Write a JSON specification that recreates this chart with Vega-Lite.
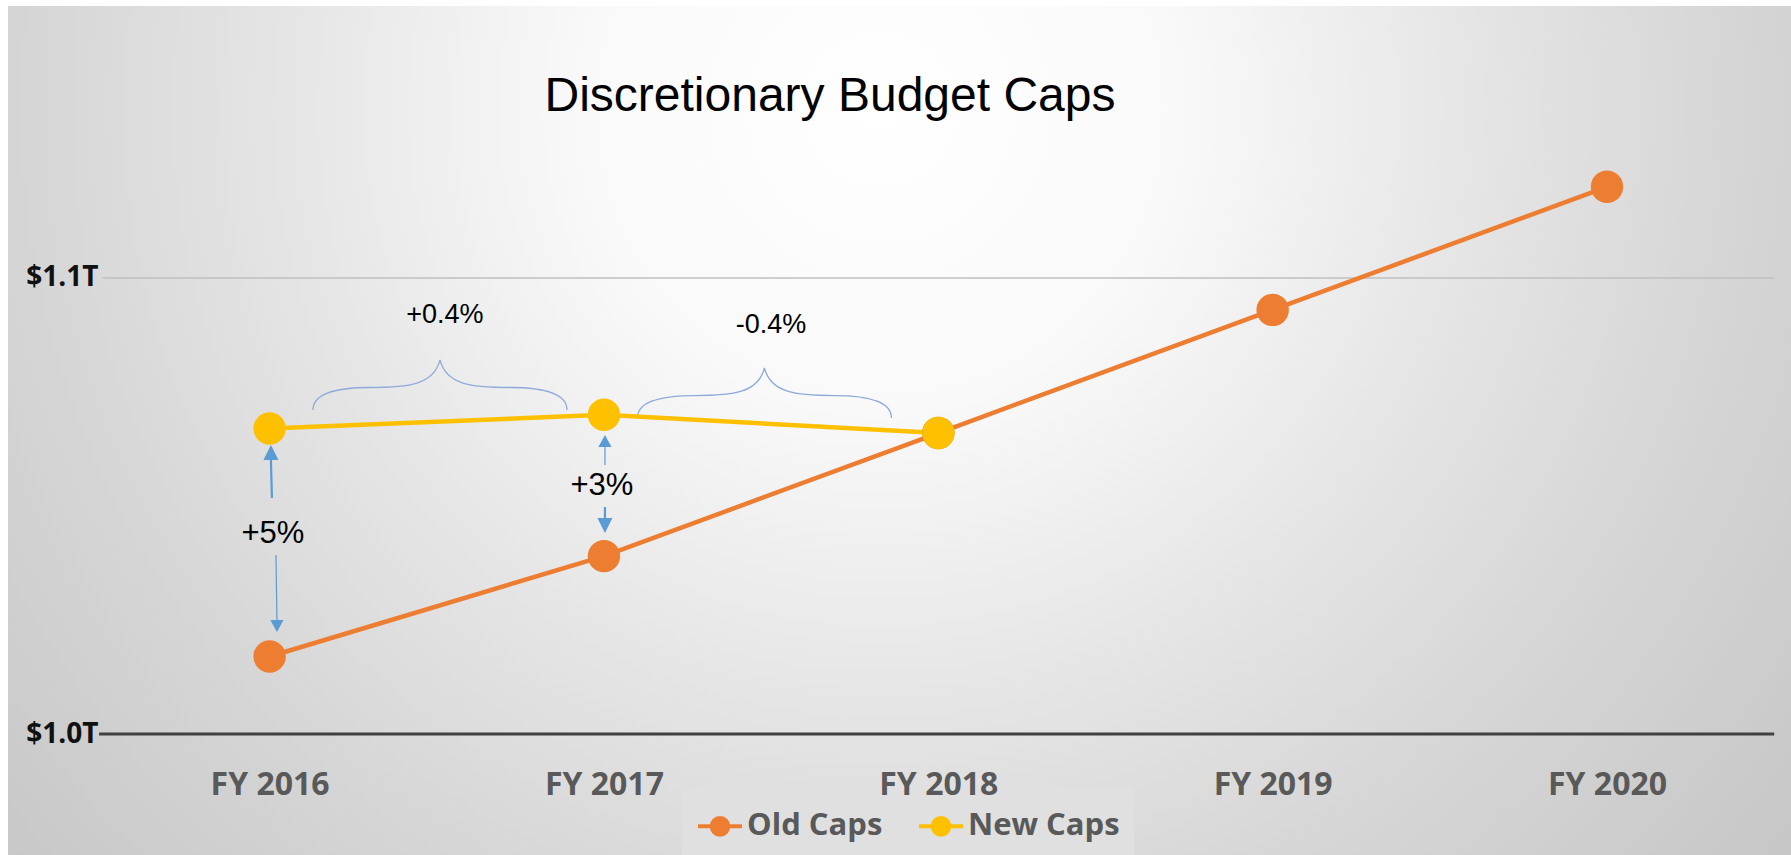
{
  "$schema": "https://vega.github.io/schema/vega-lite/v6.json",
  "width": 1783,
  "height": 849,
  "autosize": {"type": "none"},
  "padding": {"left": 8, "top": 6, "right": 0, "bottom": 0},
  "background": "#ffffff",
  "config": {"view": {"stroke": null}},
  "datasets": {
    "caps": [
      {"year": 2016, "series": "Old Caps", "value": 1.017},
      {"year": 2017, "series": "Old Caps", "value": 1.039},
      {"year": 2018, "series": "Old Caps", "value": 1.066},
      {"year": 2019, "series": "Old Caps", "value": 1.093},
      {"year": 2020, "series": "Old Caps", "value": 1.120},
      {"year": 2016, "series": "New Caps", "value": 1.067},
      {"year": 2017, "series": "New Caps", "value": 1.070},
      {"year": 2018, "series": "New Caps", "value": 1.066}
    ]
  },
  "layer": [
    {
      "data": {"values": [{}]},
      "mark": {
        "type": "rect",
        "clip": true,
        "yOffset": -467,
        "y2Offset": 467,
        "fill": {
          "gradient": "radial",
          "x1": 0.489, "y1": 0.32, "r1": 0,
          "x2": 0.489, "y2": 0.32, "r2": 0.7,
          "stops": [
            {"offset": 0, "color": "#ffffff"},
            {"offset": 0.24, "color": "#f9f9f9"},
            {"offset": 0.48, "color": "#e5e5e5"},
            {"offset": 0.68, "color": "#d6d6d6"},
            {"offset": 1, "color": "#c3c3c3"}
          ]
        }
      },
      "encoding": {
        "x": {"value": 0},
        "x2": {"value": "width"},
        "y": {"value": 0},
        "y2": {"value": "height"}
      }
    },
    {
      "data": {"values": [{}]},
      "mark": {"type": "rule", "color": "#bfbfbf", "strokeWidth": 1.5},
      "encoding": {
        "x": {"datum": 2015.5, "type": "quantitative", "scale": {"domain": [2015.21759, 2020.55032], "nice": false, "zero": false}},
        "x2": {"datum": 2020.5},
        "y": {"datum": 1.1, "type": "quantitative", "scale": {"domain": [0.973465, 1.159649], "nice": false, "zero": false}}
      }
    },
    {
      "data": {"values": [{}]},
      "mark": {"type": "rule", "color": "#404040", "strokeWidth": 3},
      "encoding": {
        "x": {"datum": 2015.49, "type": "quantitative", "scale": {"domain": [2015.21759, 2020.55032], "nice": false, "zero": false}},
        "x2": {"datum": 2020.5},
        "y": {"datum": 1.0, "type": "quantitative", "scale": {"domain": [0.973465, 1.159649], "nice": false, "zero": false}}
      }
    },
    {
      "data": {"values": [{}]},
      "mark": {"type": "point", "filled": false, "stroke": "#8eaadb", "strokeWidth": 1.3, "opacity": 1, "size": 64516,
        "shape": "M-1,0.197C-1,0.08,-0.85,0.02,-0.55,0.02C-0.25,0.02,-0.05,0,0,-0.197C0.05,0,0.25,0.02,0.55,0.02C0.85,0.02,1,0.08,1,0.197"},
      "encoding": {
        "x": {"datum": 2016.5096, "type": "quantitative", "scale": {"domain": [2015.21759, 2020.55032], "nice": false, "zero": false}},
        "y": {"datum": 1.07654, "type": "quantitative", "scale": {"domain": [0.973465, 1.159649], "nice": false, "zero": false}}
      }
    },
    {
      "data": {"values": [{}]},
      "mark": {"type": "point", "filled": false, "stroke": "#8eaadb", "strokeWidth": 1.3, "opacity": 1, "size": 64516,
        "shape": "M-1,0.197C-1,0.08,-0.85,0.02,-0.55,0.02C-0.25,0.02,-0.05,0,0,-0.197C0.05,0,0.25,0.02,0.55,0.02C0.85,0.02,1,0.08,1,0.197"},
      "encoding": {
        "x": {"datum": 2017.48, "type": "quantitative", "scale": {"domain": [2015.21759, 2020.55032], "nice": false, "zero": false}},
        "y": {"datum": 1.07478, "type": "quantitative", "scale": {"domain": [0.973465, 1.159649], "nice": false, "zero": false}}
      }
    },
    {
      "data": {"values": [{}]},
      "mark": {"type": "rule", "color": "#5b9bd5", "strokeWidth": 2.2},
      "encoding": {
        "x": {"datum": 2016.007, "type": "quantitative", "scale": {"domain": [2015.21759, 2020.55032], "nice": false, "zero": false}},
        "x2": {"datum": 2016.004},
        "y": {"datum": 1.05175, "type": "quantitative", "scale": {"domain": [0.973465, 1.159649], "nice": false, "zero": false}},
        "y2": {"datum": 1.06009}
      }
    },
    {
      "data": {"values": [{}]},
      "mark": {"type": "rule", "color": "#5b9bd5", "strokeWidth": 1.2},
      "encoding": {
        "x": {"datum": 2016.019, "type": "quantitative", "scale": {"domain": [2015.21759, 2020.55032], "nice": false, "zero": false}},
        "x2": {"datum": 2016.022},
        "y": {"datum": 1.03925, "type": "quantitative", "scale": {"domain": [0.973465, 1.159649], "nice": false, "zero": false}},
        "y2": {"datum": 1.025}
      }
    },
    {
      "data": {"values": [{}]},
      "mark": {"type": "rule", "color": "#5b9bd5", "strokeWidth": 1.2},
      "encoding": {
        "x": {"datum": 2017.003, "type": "quantitative", "scale": {"domain": [2015.21759, 2020.55032], "nice": false, "zero": false}},
        "y": {"datum": 1.05899, "type": "quantitative", "scale": {"domain": [0.973465, 1.159649], "nice": false, "zero": false}},
        "y2": {"datum": 1.06294}
      }
    },
    {
      "data": {"values": [{}]},
      "mark": {"type": "rule", "color": "#5b9bd5", "strokeWidth": 2.2},
      "encoding": {
        "x": {"datum": 2017.003, "type": "quantitative", "scale": {"domain": [2015.21759, 2020.55032], "nice": false, "zero": false}},
        "y": {"datum": 1.04978, "type": "quantitative", "scale": {"domain": [0.973465, 1.159649], "nice": false, "zero": false}},
        "y2": {"datum": 1.04737}
      }
    },
    {
      "data": {"values": [{}]},
      "mark": {"type": "point", "filled": true, "color": "#5b9bd5", "opacity": 1, "size": 225, "shape": "M0,-1L1,1L-1,1Z"},
      "encoding": {
        "x": {"datum": 2016.004, "type": "quantitative", "scale": {"domain": [2015.21759, 2020.55032], "nice": false, "zero": false}},
        "y": {"datum": 1.06173, "type": "quantitative", "scale": {"domain": [0.973465, 1.159649], "nice": false, "zero": false}}
      }
    },
    {
      "data": {"values": [{}]},
      "mark": {"type": "point", "filled": true, "color": "#5b9bd5", "opacity": 1, "size": 144, "shape": "M0,1L1.1,-1L-1.1,-1Z"},
      "encoding": {
        "x": {"datum": 2016.022, "type": "quantitative", "scale": {"domain": [2015.21759, 2020.55032], "nice": false, "zero": false}},
        "y": {"datum": 1.02368, "type": "quantitative", "scale": {"domain": [0.973465, 1.159649], "nice": false, "zero": false}}
      }
    },
    {
      "data": {"values": [{}]},
      "mark": {"type": "point", "filled": true, "color": "#5b9bd5", "opacity": 1, "size": 144, "shape": "M0,-1L1.1,1L-1.1,1Z"},
      "encoding": {
        "x": {"datum": 2017.003, "type": "quantitative", "scale": {"domain": [2015.21759, 2020.55032], "nice": false, "zero": false}},
        "y": {"datum": 1.06425, "type": "quantitative", "scale": {"domain": [0.973465, 1.159649], "nice": false, "zero": false}}
      }
    },
    {
      "data": {"values": [{}]},
      "mark": {"type": "point", "filled": true, "color": "#5b9bd5", "opacity": 1, "size": 225, "shape": "M0,1L1,-1L-1,-1Z"},
      "encoding": {
        "x": {"datum": 2017.003, "type": "quantitative", "scale": {"domain": [2015.21759, 2020.55032], "nice": false, "zero": false}},
        "y": {"datum": 1.04572, "type": "quantitative", "scale": {"domain": [0.973465, 1.159649], "nice": false, "zero": false}}
      }
    },
    {
      "data": {"name": "caps"},
      "mark": {"type": "line", "strokeWidth": 4.5},
      "encoding": {
        "x": {"field": "year", "type": "quantitative", "scale": {"domain": [2015.21759, 2020.55032], "nice": false, "zero": false},
          "axis": {"values": [2016, 2017, 2018, 2019, 2020], "labelExpr": "'FY ' + datum.value", "title": null, "orient": "bottom", "offset": -121,
            "zindex": 2, "domain": false, "ticks": false, "grid": false, "labelFont": "Open Sans", "labelFontWeight": "bold", "labelFontSize": 32,
            "labelColor": "#595959", "labelPadding": 35, "labelFlush": false, "labelOverlap": false}},
        "y": {"field": "value", "type": "quantitative", "scale": {"domain": [0.973465, 1.159649], "nice": false, "zero": false},
          "axis": {"values": [1.0, 1.1], "labelExpr": "datum.value < 1.05 ? '$1.0T' : '$1.1T'", "title": null, "orient": "left", "offset": -96,
            "zindex": 2, "domain": false, "ticks": false, "grid": false, "labelFont": "Open Sans", "labelFontWeight": "bold", "labelFontSize": 28,
            "labelColor": "#111111", "labelPadding": 6, "labelFlush": false, "labelOverlap": false}},
        "color": {"field": "series", "type": "nominal",
          "scale": {"domain": ["Old Caps", "New Caps"], "range": ["#ed7d31", "#ffc000"]},
          "legend": {"orient": "none", "legendX": 674, "legendY": 782, "direction": "horizontal", "title": null,
            "fillColor": "#e0e0e0", "padding": 14, "columnPadding": 28, "labelOffset": 3,
            "symbolType": "M-1,0L-0.4,0M0.4,0L1,0M-0.38,0A0.38,0.38,0,1,1,0.38,0A0.38,0.38,0,1,1,-0.38,0Z",
            "symbolSize": 1936, "symbolStrokeWidth": 4, "symbolOpacity": 1,
            "labelFont": "Open Sans", "labelFontWeight": "bold", "labelFontSize": 31, "labelColor": "#595959",
            "encode": {"symbols": {"update": {"fill": {"scale": "color", "field": "value"}, "stroke": {"scale": "color", "field": "value"}}}}}}
      }
    },
    {
      "data": {"name": "caps"},
      "mark": {"type": "point", "filled": true, "opacity": 1, "size": 1050},
      "encoding": {
        "x": {"field": "year", "type": "quantitative", "scale": {"domain": [2015.21759, 2020.55032], "nice": false, "zero": false}},
        "y": {"field": "value", "type": "quantitative", "scale": {"domain": [0.973465, 1.159649], "nice": false, "zero": false}},
        "color": {"field": "series", "type": "nominal",
          "scale": {"domain": ["Old Caps", "New Caps"], "range": ["#ed7d31", "#ffc000"]},
          "legend": {"orient": "none", "legendX": 674, "legendY": 782, "direction": "horizontal", "title": null,
            "fillColor": "#e0e0e0", "padding": 14, "columnPadding": 28, "labelOffset": 3,
            "symbolType": "M-1,0L-0.4,0M0.4,0L1,0M-0.38,0A0.38,0.38,0,1,1,0.38,0A0.38,0.38,0,1,1,-0.38,0Z",
            "symbolSize": 1936, "symbolStrokeWidth": 4, "symbolOpacity": 1,
            "labelFont": "Open Sans", "labelFontWeight": "bold", "labelFontSize": 31, "labelColor": "#595959",
            "encode": {"symbols": {"update": {"fill": {"scale": "color", "field": "value"}, "stroke": {"scale": "color", "field": "value"}}}}}}
      }
    },
    {
      "data": {"values": [{"label": "Discretionary Budget Caps"}]},
      "mark": {"type": "text", "font": "Liberation Sans", "fontSize": 48, "color": "#000000", "align": "center", "baseline": "alphabetic"},
      "encoding": {
        "x": {"datum": 2017.676, "type": "quantitative", "scale": {"domain": [2015.21759, 2020.55032], "nice": false, "zero": false}},
        "y": {"datum": 1.13662, "type": "quantitative", "scale": {"domain": [0.973465, 1.159649], "nice": false, "zero": false}},
        "text": {"field": "label"}
      }
    },
    {
      "data": {"values": [{"label": "+0.4%"}]},
      "mark": {"type": "text", "font": "Liberation Sans", "fontSize": 27, "color": "#000000", "align": "center", "baseline": "alphabetic"},
      "encoding": {
        "x": {"datum": 2016.524, "type": "quantitative", "scale": {"domain": [2015.21759, 2020.55032], "nice": false, "zero": false}},
        "y": {"datum": 1.09013, "type": "quantitative", "scale": {"domain": [0.973465, 1.159649], "nice": false, "zero": false}},
        "text": {"field": "label"}
      }
    },
    {
      "data": {"values": [{"label": "-0.4%"}]},
      "mark": {"type": "text", "font": "Liberation Sans", "fontSize": 27, "color": "#000000", "align": "center", "baseline": "alphabetic"},
      "encoding": {
        "x": {"datum": 2017.4994, "type": "quantitative", "scale": {"domain": [2015.21759, 2020.55032], "nice": false, "zero": false}},
        "y": {"datum": 1.08794, "type": "quantitative", "scale": {"domain": [0.973465, 1.159649], "nice": false, "zero": false}},
        "text": {"field": "label"}
      }
    },
    {
      "data": {"values": [{"label": "+5%"}]},
      "mark": {"type": "text", "font": "Liberation Sans", "fontSize": 31, "color": "#000000", "align": "center", "baseline": "alphabetic"},
      "encoding": {
        "x": {"datum": 2016.01, "type": "quantitative", "scale": {"domain": [2015.21759, 2020.55032], "nice": false, "zero": false}},
        "y": {"datum": 1.04189, "type": "quantitative", "scale": {"domain": [0.973465, 1.159649], "nice": false, "zero": false}},
        "text": {"field": "label"}
      }
    },
    {
      "data": {"values": [{"label": "+3%"}]},
      "mark": {"type": "text", "font": "Liberation Sans", "fontSize": 31, "color": "#000000", "align": "center", "baseline": "alphabetic"},
      "encoding": {
        "x": {"datum": 2016.994, "type": "quantitative", "scale": {"domain": [2015.21759, 2020.55032], "nice": false, "zero": false}},
        "y": {"datum": 1.05241, "type": "quantitative", "scale": {"domain": [0.973465, 1.159649], "nice": false, "zero": false}},
        "text": {"field": "label"}
      }
    }
  ]
}
